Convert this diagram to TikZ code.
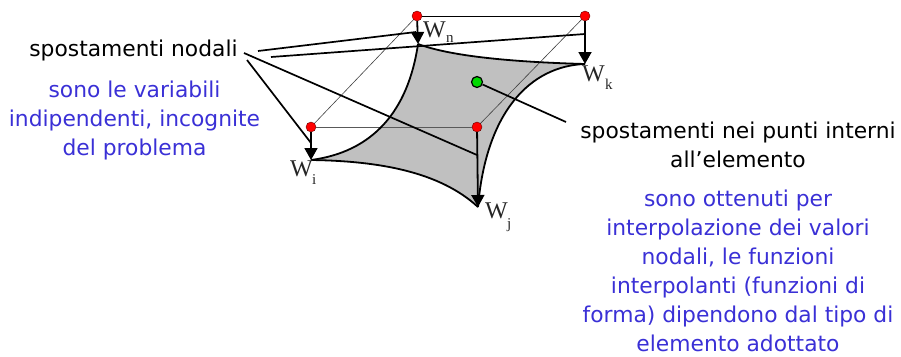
\documentclass[tikz,border=0pt]{standalone}
\usepackage{fontspec}
\setmainfont{DejaVu Sans}
\newfontfamily\serifw{Liberation Serif}
\definecolor{bluetxt}{RGB}{58,48,214}
\definecolor{surf}{RGB}{192,192,192}
\usetikzlibrary{arrows.meta}
\begin{document}
\begin{tikzpicture}[x=1pt,y=-1pt,
  redpt/.style={circle,fill=red,draw=black!60!red,line width=.4pt,minimum size=10pt,inner sep=0pt},
  greenpt/.style={circle,fill=green!85!black,draw=black,line width=1.2pt,minimum size=11pt,inner sep=0pt},
  frameline/.style={line width=.6pt,black!75},
  frametop/.style={line width=1pt,black},
  edgeline/.style={line width=1.8pt,black},
  disp/.style={line width=1.8pt,black,-{Triangle[length=12pt,width=13pt]}},
  leader/.style={line width=1.7pt,black},
  lab/.style={font=\fontsize{21.8}{29}\selectfont,black,align=center,inner sep=0pt},
  note/.style={lab,text=bluetxt},
  wlab/.style={font=\serifw\fontsize{24}{24}\selectfont,inner sep=0pt,text=black!85},
  wsub/.style={font=\serifw\fontsize{15}{15}\selectfont,inner sep=0pt,text=black!85}]
\useasboundingbox (0,0) rectangle (901,356);
% corner points of the surface
\coordinate (sn) at (418,44);
\coordinate (sk) at (585,64);
\coordinate (sj) at (478,207);
\coordinate (si) at (311,160);
% surface
\fill[surf] (si) .. controls (372,152) and (408,112) .. (sn)
  .. controls (450,56) and (510,62) .. (sk)
  .. controls (530,66) and (486,112) .. (sj)
  .. controls (440,172) and (380,161) .. (si) -- cycle;
% frame
\node[redpt] (rn) at (417,16) {};
\node[redpt] (rk) at (585,16) {};
\node[redpt] (ri) at (311,127) {};
\node[redpt] (rj) at (477,127) {};
\draw[frameline] (rn) -- (ri);
\draw[frameline] (rk) -- (rj);
\draw[frametop] (rn) -- (rk);
\draw[line width=1pt,black!65] (ri) -- (rj);
% edges
\draw[edgeline] (si) .. controls (372,152) and (408,112) .. (sn);
\draw[edgeline] (sn) .. controls (450,56) and (510,62) .. (sk);
\draw[edgeline] (sk) .. controls (530,66) and (486,112) .. (sj);
\draw[edgeline] (sj) .. controls (440,172) and (380,161) .. (si);
% displacements
\draw[disp] (rn) -- (sn);
\draw[disp] (rk) -- (sk);
\draw[disp] (ri) -- (si);
\draw[disp] (rj) -- (sj);
% labels W
\node[wlab,anchor=west] (wn) at (423,30) {W};
\node[wsub,anchor=west] (wns) at (446,39) {n};
\node[wlab,anchor=west] (wk) at (582,74) {W};
\node[wsub,anchor=west] (wks) at (605,84) {k};
\node[wlab,anchor=west] (wi) at (290,169) {W};
\node[wsub,anchor=west] (wis) at (312,180) {i};
\node[wlab,anchor=west] (wj) at (485,211) {W};
\node[wsub,anchor=west] (wjs) at (507,225) {j};
% interior point
\node[greenpt] (gp) at (477,82) {};
% texts
\node[lab] (t1) at (133.5,50) {spostamenti nodali};
\node[note] (t2) at (134.5,120) {sono le variabili\\indipendenti, incognite\\del problema};
\node[lab] (t3) at (738,145) {spostamenti nei punti interni\\all’elemento};
\node[note] (t4) at (738,271) {sono ottenuti per\\interpolazione dei valori\\nodali, le funzioni\\interpolanti (funzioni di\\forma) dipendono dal tipo di\\elemento adottato};
% leaders
\coordinate (la) at (258,51);
\coordinate (lb) at (271,57);
\coordinate (lc) at (244,53);
\coordinate (ld) at (247,60);
\coordinate (ea) at (416,32);
\coordinate (eb) at (585,34);
\coordinate (ec) at (477,155);
\coordinate (ed) at (311,143);
\coordinate (eg) at (566,122);
\draw[leader] (la) -- (ea);
\draw[leader] (lb) -- (eb);
\draw[leader] (lc) -- (ec);
\draw[leader] (ld) -- (ed);
\draw[leader] (gp) -- (eg);
\end{tikzpicture}
\end{document}
